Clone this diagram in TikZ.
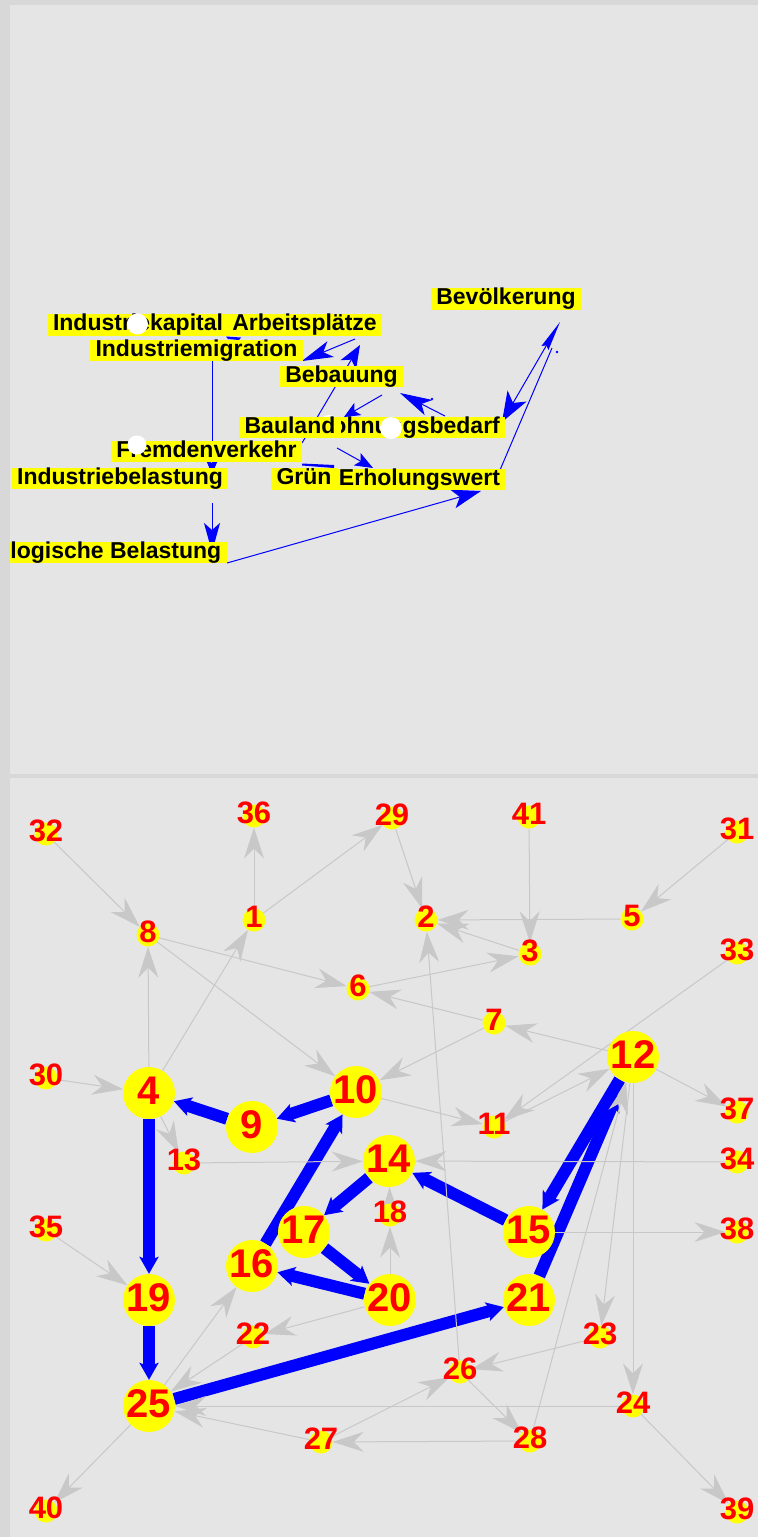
\documentclass[tikz,border=0pt]{standalone}
\usepackage{fontspec}
\newfontfamily\lsans{Liberation Sans}
\usetikzlibrary{arrows.meta}
\definecolor{framegray}{RGB}{216,216,216}
\definecolor{panelgray}{RGB}{229,229,229}
\definecolor{edgegray}{RGB}{200,200,200}
\definecolor{nodeyellow}{RGB}{255,255,0}
\definecolor{numred}{RGB}{255,0,0}
\definecolor{edgeblue}{RGB}{0,0,255}
\pgfdeclarelayer{bg}
\pgfdeclarelayer{edges}
\pgfsetlayers{bg,edges,main}
\newcommand\toplblfont{\lsans\bfseries\fontsize{23}{23}\selectfont}
\newcommand\snumfont{\lsans\bfseries\fontsize{31}{31}\selectfont}
\newcommand\bnumfont{\lsans\bfseries\fontsize{40}{40}\selectfont}
\newcommand\smallnd[3]{\node[snode] (n#1) at (#2,#3) {};\node[slbl] (l#1) at (#2,#3-3) {#1};}
\newcommand\bignd[3]{\node[bnode] (n#1) at (#2,#3) {};\node[blbl] (l#1) at (#2,#3-2) {#1};}
\begin{document}
\begin{tikzpicture}[x=1pt,y=-1pt,
  tlbl/.style={fill=nodeyellow, text=black, font=\toplblfont, inner xsep=5.5pt, inner ysep=0pt, text height=16.5pt, text depth=4.8pt},
  blob/.style={circle, fill=white, inner sep=0pt, minimum size=#1},
  tedge/.style={draw=edgeblue, line width=1pt},
  snode/.style={circle, fill=nodeyellow, minimum size=23pt, inner sep=0pt},
  bnode/.style={circle, fill=nodeyellow, minimum size=52pt, inner sep=0pt},
  slbl/.style={text=numred, font=\snumfont, inner sep=0pt},
  blbl/.style={text=numred, font=\bnumfont, inner sep=0pt},
  gedge/.style={draw=edgegray, line width=1pt, -{Stealth[length=31pt,width=20pt,inset=10pt]}},
  bedge/.style={draw=edgeblue, line width=12pt, -{Stealth[length=17pt,width=19pt,inset=4pt]}}
]
\useasboundingbox (0,0) rectangle (758,1537);
\begin{pgfonlayer}{bg}
  \fill[framegray] (0,0) rectangle (758,1537);
  \fill[panelgray] (10,5) rectangle (758,774);
  \fill[panelgray] (10,778) rectangle (758,1537);
\end{pgfonlayer}

% ---------------- top panel ----------------
\begin{scope}
\clip (10,5) rectangle (758,774);
\coordinate (ta1) at (212,361); \coordinate (ta2) at (212,474);
\coordinate (tb1) at (212,503); \coordinate (tb2) at (212,552);
\coordinate (tc1) at (227,563); \coordinate (tc2) at (481,491);
\coordinate (td1) at (355,339); \coordinate (td2) at (302,361);
\coordinate (te1) at (302,443); \coordinate (te2) at (360,345);
\coordinate (tf1) at (382,395); \coordinate (tf2) at (344,417);
\coordinate (tg1) at (445,416); \coordinate (tg2) at (400,393);
\coordinate (th1) at (560,322); \coordinate (th2) at (502,422);
\coordinate (tj1) at (500,470); \coordinate (tj2) at (552,348);
\coordinate (tk1) at (337,448); \coordinate (tk2) at (373,468);
\draw[tedge,-{Stealth[length=14pt,width=12pt,inset=3pt]}] (ta1) -- (ta2);
\draw[tedge,-{Stealth[length=29pt,width=16pt,inset=7pt]}] (tb1) -- (tb2);
\draw[tedge,-{Stealth[length=29pt,width=19pt,inset=7pt]}] (tc1) -- (tc2);
\draw[tedge,-{Stealth[length=31pt,width=17pt,inset=8pt]}] (td1) -- (td2);
\draw[tedge,-{Stealth[length=23pt,width=18pt,inset=6pt]}] (te1) -- (te2);
\draw[tedge,-{Stealth[length=16pt,width=14pt,inset=4pt]}] (tf1) -- (tf2);
\draw[tedge,-{Stealth[length=32pt,width=17pt,inset=8pt]}] (tg1) -- (tg2);
\draw[tedge,{Stealth[length=30pt,width=8pt,inset=3pt]}-{Stealth[length=30pt,width=22pt,inset=8pt]}] (th1) -- (th2);
\draw[tedge] (tj1) -- (tj2);
\draw[tedge,-{Stealth[length=18pt,width=14pt,inset=4pt]}] (tk1) -- (tk2);
\fill[edgeblue] (432,399) circle (1.4);
\fill[edgeblue] (557,352) circle (1.4);
\fill[edgeblue] (302,463.5) -- (334,465) -- (334,468) -- (302,465.5) -- cycle;
\fill[edgeblue] (226,336.5) -- (241,337.5) -- (239,340) -- (228,339) -- cycle;

\node[tlbl] (bev) at (506,299) {Bevölkerung};
\node[tlbl] (ikap) at (138,325) {Industriekapital};
\node[tlbl] (arb) at (304.5,325) {Arbeitsplätze};
\node[tlbl] (imig) at (196.5,350.5) {Industriemigration};
\node[tlbl] (beb) at (341.5,376.5) {Bebauung};
\node[tlbl] (woh) at (405.5,427.5) {Wohnungsbedarf};
\node[blob=22pt] (blobw) at (329,426) {};
\node[tlbl] (bau) at (290,427.5) {Bauland};
\node[tlbl] (frem) at (206.5,451.5) {Fremdenverkehr};
\node[tlbl] (ibel) at (120,478.5) {Industriebelastung};
\node[tlbl] (gruen) at (304,479) {Grün};
\node[tlbl] (erh) at (419.5,479.5) {Erholungswert};
\node[tlbl, anchor=east] (oekb) at (227,552.5) {Ökologische Belastung};
\node[blob=21pt] (blobk) at (137.5,324) {};
\node[blob=19pt] (blobf) at (137,445) {};
\node[blob=22pt] (blobn) at (391,428) {};
\end{scope}

% ---------------- bottom panel ----------------
\smallnd{32}{46}{834}
\smallnd{36}{254}{816}
\smallnd{29}{392}{818}
\smallnd{41}{529}{817}
\smallnd{31}{737}{832}
\smallnd{8}{148}{935}
\smallnd{1}{254}{920}
\smallnd{2}{426}{920}
\smallnd{5}{632}{919}
\smallnd{3}{530}{954}
\smallnd{33}{737}{953}
\smallnd{6}{358}{989}
\smallnd{7}{494}{1023}
\bignd{12}{633}{1057}
\smallnd{30}{46}{1078}
\bignd{4}{149}{1093}
\bignd{10}{356}{1092}
\bignd{9}{252}{1127}
\smallnd{11}{494}{1127}
\smallnd{37}{737}{1112}
\smallnd{13}{184}{1163}
\bignd{14}{389}{1161}
\smallnd{34}{737}{1162}
\smallnd{18}{390}{1215}
\bignd{17}{304}{1232}
\bignd{15}{529}{1232}
\smallnd{35}{46}{1230}
\smallnd{38}{737}{1232}
\bignd{16}{252}{1266}
\bignd{19}{149}{1300}
\bignd{20}{390}{1300}
\bignd{21}{529}{1300}
\smallnd{22}{253}{1337}
\smallnd{23}{600}{1337}
\bignd{25}{149}{1406}
\smallnd{26}{460}{1372}
\smallnd{24}{633}{1406}
\smallnd{27}{321}{1442}
\smallnd{28}{530}{1441}
\smallnd{40}{46}{1511}
\smallnd{39}{737}{1512}

\begin{pgfonlayer}{edges}
  \draw[bedge] (n10) -- (n9);
  \draw[bedge] (n9) -- (n4);
  \draw[bedge] (n4) -- (n19);
  \draw[bedge] (n19) -- (n25);
  \draw[bedge] (n25) -- (n21);
  \draw[bedge] (n16) -- (n10);
  \draw[bedge] (n14) -- (n17);
  \draw[bedge] (n17) -- (n20);
  \draw[bedge] (n20) -- (n16);
  \draw[bedge] (n15) -- (n14);
  \draw[bedge] (n12) -- (n15);
  \draw[bedge,shorten >=14pt] (n21) -- (n12);

  \draw[gedge] (n32) -- (n8);
  \draw[gedge] (n1) -- (n36);
  \draw[gedge] (n1) -- (n29);
  \draw[gedge] (n4) -- (n1);
  \draw[gedge] (n4) -- (n8);
  \draw[gedge] (n8) -- (n6);
  \draw[gedge] (n8) -- (n10);
  \draw[gedge] (n29) -- (n2);
  \draw[gedge] (n41) -- (n3);
  \draw[gedge] (n31) -- (n5);
  \draw[gedge] (n5) -- (n2);
  \draw[gedge] (n3) -- (n2);
  \draw[gedge] (n6) -- (n3);
  \draw[gedge] (n7) -- (n6);
  \draw[gedge] (n12) -- (n7);
  \draw[gedge] (n7) -- (n10);
  \draw[gedge] (n26) -- (n2);
  \draw[gedge] (n28) -- (n12);
  \draw[gedge] (n33) -- (n11);
  \draw[gedge] (n11) -- (n12);
  \draw[gedge] (n10) -- (n11);
  \draw[gedge] (n12) -- (n37);
  \draw[gedge] (n4) -- (n13);
  \draw[gedge] (n13) -- (n14);
  \draw[gedge] (n34) -- (n14);
  \draw[gedge] (n15) -- (n38);
  \draw[gedge] (n20) -- (n18);
  \draw[gedge] (n18) -- (n14);
  \draw[gedge] (n35) -- (n19);
  \draw[gedge] (n30) -- (n4);
  \draw[gedge] (n20) -- (n22);
  \draw[gedge] (n25) -- (n16);
  \draw[gedge] (n22) -- (n25);
  \draw[gedge] (n24) -- (n25);
  \draw[gedge] (n27) -- (n25);
  \draw[gedge] (n28) -- (n27);
  \draw[gedge] (n27) -- (n26);
  \draw[gedge] (n23) -- (n26);
  \draw[gedge] (n26) -- (n28);
  \draw[gedge] (n12) -- (n23);
  \draw[gedge] (n12) -- (n24);
  \draw[gedge] (n24) -- (n39);
  \draw[gedge] (n25) -- (n40);
\end{pgfonlayer}
\end{tikzpicture}
\end{document}
